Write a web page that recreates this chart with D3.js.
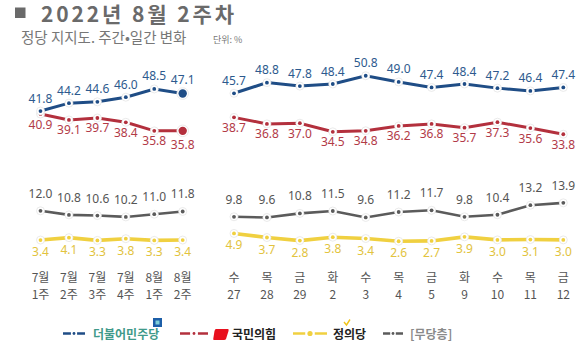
<!DOCTYPE html>
<html>
<head>
<meta charset="utf-8">
<script src="https://cdn.jsdelivr.net/npm/d3@7"></script>
<style>
  body { margin: 0; background: #fff; }
  svg { display: block; font-family: "Noto Sans CJK KR", "Noto Sans", sans-serif; }
</style>
</head>
<body>
<svg id="chart" width="580" height="351"></svg>
<script>
// weekly (left) categories
var weekMonth = ["7월", "7월", "7월", "7월", "8월", "8월"];
var weekNum = ["1주", "2주", "3주", "4주", "1주", "2주"];
// daily (right) categories
var dayName = ["수", "목", "금", "화", "수", "목", "금", "화", "수", "목", "금"];
var dayNum = ["27", "28", "29", "2", "3", "4", "5", "9", "10", "11", "12"];

var weekMinjoo = [41.8, 44.2, 44.6, 46.0, 48.5, 47.1];
var weekPpp = [40.9, 39.1, 39.7, 38.4, 35.8, 35.8];
var weekJustice = [3.4, 4.1, 3.3, 3.8, 3.3, 3.4];
var weekNone = [12.0, 10.8, 10.6, 10.2, 11.0, 11.8];

var dayMinjoo = [45.7, 48.8, 47.8, 48.4, 50.8, 49.0, 47.4, 48.4, 47.2, 46.4, 47.4];
var dayPpp = [38.7, 36.8, 37.0, 34.5, 34.8, 36.2, 36.8, 35.7, 37.3, 35.6, 33.8];
var dayJustice = [4.9, 3.7, 2.8, 3.8, 3.4, 2.6, 2.7, 3.9, 3.0, 3.1, 3.0];
var dayNone = [9.8, 9.6, 10.8, 11.5, 9.6, 11.2, 11.7, 9.8, 10.4, 13.2, 13.9];

var legendNames = ["더불어민주당", "국민의힘", "정의당", "[무당층]"];

var svg = d3.select("#chart");
var numFont = "\"Noto Sans\", sans-serif";

var colors = {
    minjoo: {line: "#1f4d86", text: "#2d5a8e"},
    ppp: {line: "#b3303d", text: "#b23a47"},
    justice: {line: "#f0d040", text: "#e2c33e"},
    none: {line: "#5b5b5b", text: "#555"}
};

// title
svg.append("rect").attr("x", 15).attr("y", 7.5).attr("width", 10.5).attr("height", 10.5).attr("fill", "#6a6a6a");
svg.append("text").attr("x", 41).attr("y", 21.5)
    .attr("font-size", 21).attr("font-weight", "bold").attr("fill", "#6a6a6a")
    .attr("textLength", 193)
    .text("2022년 8월 2주차");
svg.append("text").attr("x", 21).attr("y", 43)
    .attr("font-size", 14.5).attr("fill", "#777")
    .text("정당 지지도. 주간•일간 변화");
svg.append("text").attr("x", 213).attr("y", 42.5)
    .attr("font-size", 9).attr("fill", "#777")
    .text("단위: %");

var panels = [
    {
        n: weekMinjoo.length, xr: [40.5, 182.7],
        top: [133.5, 84], bot: [251.6, 200.6],
        cat1: weekMonth, cat2: weekNum,
        series: {minjoo: weekMinjoo, ppp: weekPpp, justice: weekJustice, none: weekNone},
        bigLast: true
    },
    {
        n: dayMinjoo.length, xr: [234, 563.3],
        top: [130.1, 78.5], bot: [250.1, 199.1],
        cat1: dayName, cat2: dayNum,
        series: {minjoo: dayMinjoo, ppp: dayPpp, justice: dayJustice, none: dayNone},
        bigLast: false
    }
];

// label offsets (baseline relative to point)
var labelDy = {minjoo: -8.5, ppp: 14.5, justice: 16, none: -13};
var lineW = {minjoo: 3, ppp: 3, justice: 3.6, none: 2.6};
var order = ["none", "justice", "ppp", "minjoo"];

panels.forEach(function (p) {
    var x = d3.scaleLinear().domain([0, p.n - 1]).range(p.xr);
    var yTop = d3.scaleLinear().domain([35, 50]).range(p.top);
    var yBot = d3.scaleLinear().domain([0, 15]).range(p.bot);
    var g = svg.append("g");

    order.forEach(function (key) {
        var vals = p.series[key];
        var main = (key === "minjoo" || key === "ppp");
        var y = main ? yTop : yBot;
        var c = colors[key];
        var isBig = function (i) { return p.bigLast && main && i === p.n - 1; };

        var line = d3.line()
            .x(function (d, i) { return x(i); })
            .y(function (d) { return y(d); });

        g.append("path")
            .datum(vals)
            .attr("d", line)
            .attr("fill", "none")
            .attr("stroke", c.line)
            .attr("stroke-width", lineW[key]);

        var pts = g.selectAll(".pt-" + key)
            .data(vals)
            .enter()
            .append("g")
            .attr("class", "pt-" + key)
            .attr("transform", function (d, i) { return "translate(" + x(i) + "," + y(d) + ")"; });

        pts.append("circle")
            .attr("r", function (d, i) { return isBig(i) ? 5.8 : 4; })
            .attr("fill", "#fff")
            .attr("stroke", "#e4e4e4")
            .attr("stroke-width", 0.8);
        pts.append("circle")
            .attr("r", function (d, i) { return isBig(i) ? 4.2 : 1.9; })
            .attr("fill", c.line);

        g.selectAll(".lb-" + key)
            .data(vals)
            .enter()
            .append("text")
            .attr("class", "lb-" + key)
            .attr("x", function (d, i) { return x(i); })
            .attr("y", function (d, i) {
                var extra = isBig(i) ? (labelDy[key] < 0 ? -1 : 4) : 0;
                return y(d) + labelDy[key] + extra;
            })
            .attr("text-anchor", "middle")
            .attr("font-family", numFont)
            .attr("font-size", 12)
            .attr("fill", c.text)
            .text(function (d) { return d.toFixed(1); });
    });

    // category labels
    g.selectAll(".c1")
        .data(p.cat1)
        .enter()
        .append("text")
        .attr("x", function (d, i) { return x(i); })
        .attr("y", 281.5)
        .attr("text-anchor", "middle")
        .attr("font-size", 12)
        .attr("fill", "#555")
        .text(function (d) { return d; });
    g.selectAll(".c2")
        .data(p.cat2)
        .enter()
        .append("text")
        .attr("x", function (d, i) { return x(i); })
        .attr("y", 299)
        .attr("text-anchor", "middle")
        .attr("font-size", 12)
        .attr("fill", "#555")
        .text(function (d) { return d; });
});

// legend
var lg = svg.append("g");
var legendItems = [
    {key: "minjoo", x: 63, w: 22, tx: 93, color: "#3f9a8a", weight: "bold"},
    {key: "ppp", x: 180, w: 28, tx: 232, color: "#222", weight: "bold"},
    {key: "justice", x: 293, w: 34, tx: 333, color: "#222", weight: "bold"},
    {key: "none", x: 383, w: 20, tx: 410, color: "#8a8a8a", weight: "bold"}
];
legendItems.forEach(function (it, i) {
    var c = colors[it.key].line;
    var cy = 333.5;
    var seg = it.w * 0.36;
    lg.append("line").attr("x1", it.x).attr("x2", it.x + seg).attr("y1", cy).attr("y2", cy)
        .attr("stroke", c).attr("stroke-width", 2.5);
    lg.append("line").attr("x1", it.x + it.w - seg).attr("x2", it.x + it.w).attr("y1", cy).attr("y2", cy)
        .attr("stroke", c).attr("stroke-width", 2.5);
    lg.append("circle").attr("cx", it.x + it.w / 2).attr("cy", cy).attr("r", it.key === "justice" ? 2.6 : 1.4)
        .attr("fill", c);
    lg.append("text").attr("x", it.tx).attr("y", 338.5)
        .attr("font-size", 12).attr("font-weight", it.weight).attr("fill", it.color)
        .text(legendNames[i]);
});
// small party marks
lg.append("rect").attr("x", 153).attr("y", 318).attr("width", 9).attr("height", 9).attr("fill", "#1d5fa8");
lg.append("rect").attr("x", 155.5).attr("y", 320.5).attr("width", 4).attr("height", 4).attr("fill", "#7fd0d8");
lg.append("path")
    .attr("d", "M216,329 L228,329 Q229,329 228.5,331 L226,339 Q225.5,340 224,340 L214,340 Q213,340 213.3,338.5 L214.5,331 Q215,329 216,329 Z")
    .attr("fill", "#e8101e");
lg.append("path").attr("d", "M344,322 L346.5,325 L350,319.5")
    .attr("fill", "none").attr("stroke", "#f0c419").attr("stroke-width", 1.4);
</script>
</body>
</html>
